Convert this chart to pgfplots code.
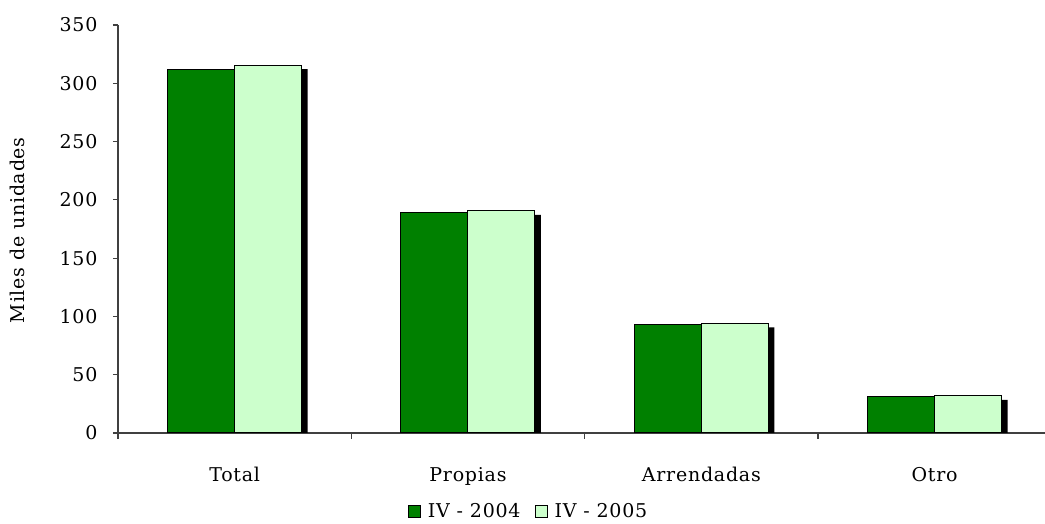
\documentclass[border=0pt]{standalone}
\usepackage{fontspec}
\setmainfont[LetterSpace=4]{DejaVu Serif}
\usepackage{pgfplots}
\pgfplotsset{compat=1.18}
\definecolor{dkgreen}{RGB}{0,128,0}
\definecolor{ltgreen}{RGB}{204,255,204}
\definecolor{axisgray}{RGB}{64,64,64}
\begin{document}
\begin{tikzpicture}
\useasboundingbox (-59pt,-45.5pt) rectangle (463.5pt,216.5pt);
\begin{axis}[
  at={(0,0)}, anchor=south west,
  scale only axis, width=463.5pt, height=204pt,
  xmin=-0.5, xmax=3.473, ymin=0, ymax=350,
  axis x line=bottom, axis y line=left,
  axis line style={-, draw=axisgray, line width=0.6pt},
  ytick={0,50,...,350},
  /pgf/number format/assume math mode=true,
  tick align=outside,
  major tick length=2.6pt,
  tick style={draw=axisgray, line width=0.6pt},
  xtick={0,1,2,3},
  xticklabels={Total,Propias,Arrendadas,Otro},
  xtick style={draw=none},
  extra x ticks={-0.5,0.5,1.5,2.5},
  extra x tick labels={},
  extra x tick style={xtick style={draw=axisgray, line width=0.6pt}, major tick length=3pt},
  font=\fontsize{9.5}{11}\selectfont,
  xticklabel style={anchor=base, yshift=-21.5pt, font=\fontsize{9.5}{11}\selectfont},
  yticklabel style={anchor=east, inner sep=0pt, xshift=-7.5pt, font=\fontsize{9.5}{11}\selectfont},
  ylabel={Miles de unidades},
  ylabel style={at={(axis description cs:-0.108,0.497)}, anchor=center, font=\fontsize{9.5}{11}\selectfont},
  ybar, bar width=33.5pt,
  legend style={at={(axis description cs:0.444,-0.1936)}, anchor=center, draw=none, legend columns=2,
    font=\fontsize{9.5}{11}\selectfont,
    /tikz/every odd column/.append style={column sep=1.5pt},
    /tikz/every even column/.append style={column sep=5pt},
    inner sep=0pt},
  legend image code/.code={\draw[#1, line width=0.5pt] (0pt,-3pt) rectangle (6pt,3pt);},
  clip=true,
]
\addplot[fill=dkgreen, draw=black, line width=0.5pt, bar shift=-16.75pt, forget plot,
  preaction={fill=black, draw=none, transform canvas={shift={(3pt,-2pt)}}}]
  coordinates {(0,312) (1,189.5) (2,93) (3,31.5)};
\addplot[fill=ltgreen, draw=black, line width=0.5pt, bar shift=16.75pt, forget plot,
  preaction={fill=black, draw=none, transform canvas={shift={(3pt,-2pt)}}}]
  coordinates {(0,315.5) (1,190.5) (2,94) (3,31.8)};
\addlegendimage{fill=dkgreen, draw=black}
\addlegendentry{IV - 2004}
\addlegendimage{fill=ltgreen, draw=black}
\addlegendentry{IV - 2005}
\end{axis}
\end{tikzpicture}
\end{document}
